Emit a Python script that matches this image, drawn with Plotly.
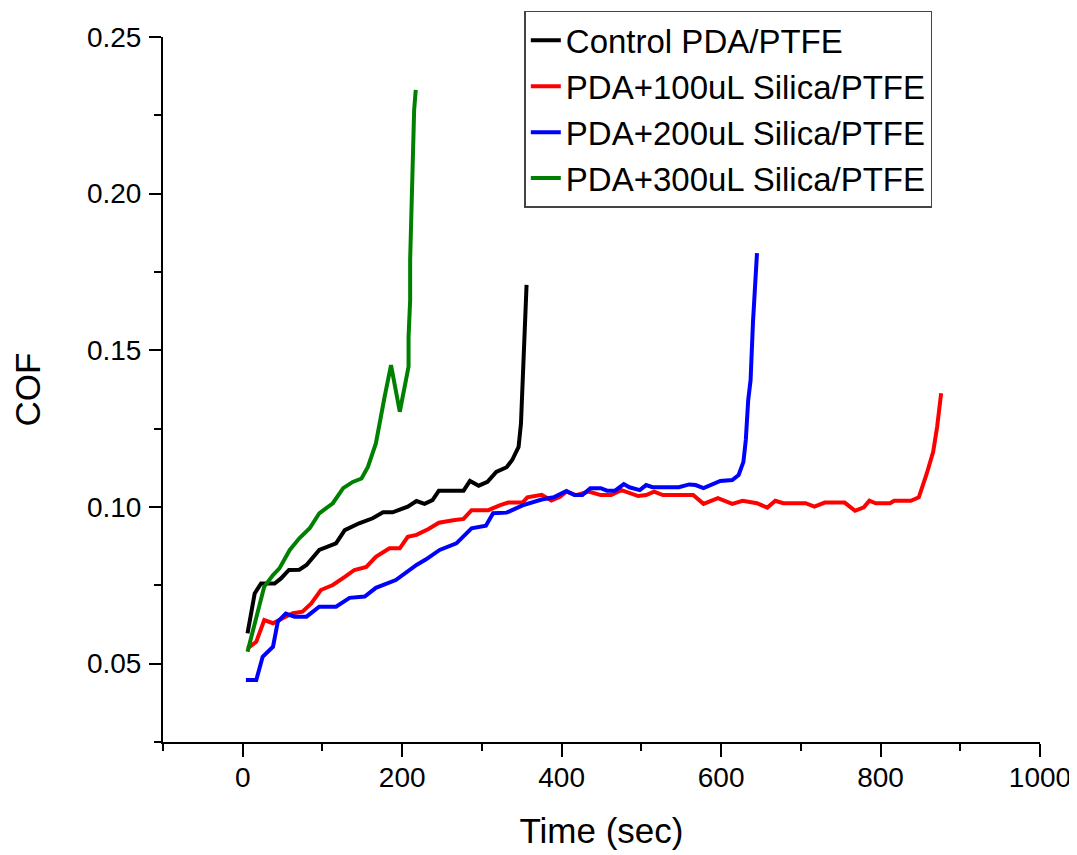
import plotly.graph_objects as go

# ---- data ----
control_x = [6, 15, 23, 40, 48, 58, 71, 80, 96, 109, 117, 128, 146, 163, 176, 188, 207, 218, 228, 238,
             246, 277, 285, 296, 307, 318, 331, 338, 346, 349, 351, 353, 356]
control_y = [0.0597, 0.0724, 0.0756, 0.0756, 0.0772, 0.0799, 0.0800, 0.0815, 0.0863, 0.0875, 0.0884,
             0.0926, 0.0948, 0.0964, 0.0983, 0.0983, 0.1001, 0.1019, 0.1010, 0.1022, 0.1052, 0.1052,
             0.1083, 0.1068, 0.1080, 0.1112, 0.1127, 0.1150, 0.1192, 0.1267, 0.1405, 0.1550, 0.1709]

s100_x = [6, 17, 27, 38, 50, 63, 75, 86, 98, 113, 128, 140, 155, 167, 184, 197, 207, 218, 233, 246,
          264, 277, 287, 308, 323, 333, 351, 357, 375, 387, 398, 406, 418, 434, 449, 462, 475, 496, 506, 516,
          527, 565, 578, 596, 614, 627, 645, 658, 668, 678, 706, 717, 730, 755, 768, 779, 786, 794, 812, 817,
          838, 848, 858, 866, 871, 876]
s100_y = [0.0549, 0.0570, 0.0639, 0.0629, 0.0645, 0.0661, 0.0666, 0.0692, 0.0735, 0.0751,
          0.0777, 0.0799, 0.0809, 0.0841, 0.0868, 0.0868, 0.0905, 0.0911, 0.0930, 0.0950,
          0.0958, 0.0962, 0.0990, 0.0990, 0.1006, 0.1014, 0.1014, 0.1031, 0.1039, 0.1021,
          0.1033, 0.1049, 0.1038, 0.1049, 0.1038, 0.1038, 0.1054, 0.1035, 0.1038, 0.1049,
          0.1038, 0.1038, 0.1010, 0.1028, 0.1010, 0.1020, 0.1012, 0.0998, 0.1020, 0.1012,
          0.1012, 0.1001, 0.1014, 0.1014, 0.0988, 0.0999, 0.1020, 0.1012, 0.1012, 0.1020,
          0.1020, 0.1031, 0.1107, 0.1176, 0.1256, 0.1363]

s200_x = [4, 17, 25, 38, 44, 54, 65, 80, 96, 117, 134, 153, 167, 192, 218, 230, 247, 268, 287, 305,
          314, 331, 351, 375, 390, 406, 416, 426, 436, 449, 457, 467, 478, 485, 498, 506, 514, 547, 560, 568,
          578, 599, 614, 622, 628, 631, 634, 637, 640, 645]
s200_y = [0.0448, 0.0448, 0.0522, 0.0554, 0.0634, 0.0660, 0.0650, 0.0650, 0.0682, 0.0682,
          0.0710, 0.0714, 0.0742, 0.0767, 0.0815, 0.0833, 0.0863, 0.0884, 0.0932, 0.0940,
          0.0980, 0.0982, 0.1005, 0.1024, 0.1031, 0.1051, 0.1038, 0.1038, 0.1060, 0.1060,
          0.1052, 0.1052, 0.1073, 0.1063, 0.1054, 0.1070, 0.1063, 0.1063, 0.1072, 0.1070,
          0.1060, 0.1083, 0.1086, 0.1102, 0.1144, 0.1214, 0.1341, 0.1405, 0.1590, 0.1810]

s300_x = [6, 27, 38, 46, 59, 71, 84, 96, 113, 126, 138, 149, 157, 167, 178, 186, 197, 208, 208, 210,
          210, 211, 212, 213, 215, 217]
s300_y = [0.0538, 0.0746, 0.0783, 0.0804, 0.0863, 0.0900, 0.0932, 0.0980, 0.1012, 0.1060,
          0.1080, 0.1091, 0.1128, 0.1203, 0.1352, 0.1453, 0.1304, 0.1448, 0.1543, 0.1660,
          0.1788, 0.1905, 0.2022, 0.2145, 0.2267, 0.2331]

series_names = ["Control PDA/PTFE", "PDA+100uL Silica/PTFE", "PDA+200uL Silica/PTFE", "PDA+300uL Silica/PTFE"]
series_colors = ["#000000", "#FF0000", "#0000FF", "#008000"]
xs = [control_x, s100_x, s200_x, s300_x]
ys = [control_y, s100_y, s200_y, s300_y]

FONT = "Arial, Liberation Sans, sans-serif"

fig = go.Figure()
for name, color, x, y in zip(series_names, series_colors, xs, ys):
    fig.add_trace(go.Scatter(x=x, y=y, mode="lines", name=name,
                             line=dict(color=color, width=4)))

# the page body adds an 8 px offset, margins compensate for it
fig.update_layout(
    width=1077, height=855,
    margin=dict(l=155, r=45, t=29, b=121, autoexpand=False),
    paper_bgcolor="white", plot_bgcolor="white",
    font=dict(family=FONT, color="black"),
    showlegend=True,
    legend=dict(x=0.412, y=1.037, xanchor="left", yanchor="top",
                bordercolor="#444444", borderwidth=1.5, bgcolor="white",
                font=dict(size=33, family=FONT, color="black"),
                tracegroupgap=0, itemwidth=30),
)

fig.update_xaxes(
    range=[-100, 1000], tick0=0, dtick=200, automargin=False,
    showline=True, linecolor="black", linewidth=2,
    ticks="outside", ticklen=13, tickwidth=2, tickcolor="black",
    minor=dict(dtick=100, tick0=-100, ticks="outside", ticklen=7, tickwidth=2, tickcolor="black"),
    showgrid=False, zeroline=False, ticklabelstandoff=-4,
    tickfont=dict(size=28, family=FONT, color="black"),
    title=dict(text="Time (sec)", font=dict(size=35, family=FONT, color="black"), standoff=27),
)

fig.update_yaxes(
    range=[0.025, 0.25], tick0=0.05, dtick=0.05, tickformat=".2f", automargin=False,
    showline=True, linecolor="black", linewidth=2,
    ticks="outside", ticklen=12, tickwidth=2, tickcolor="black",
    minor=dict(dtick=0.025, tick0=0.025, ticks="outside", ticklen=7, tickwidth=2, tickcolor="black"),
    showgrid=False, zeroline=False, ticklabelstandoff=2,
    tickfont=dict(size=28, family=FONT, color="black"),
    title=dict(text="COF", font=dict(size=35, family=FONT, color="black"), standoff=36),
)

fig.write_html("out.html")
